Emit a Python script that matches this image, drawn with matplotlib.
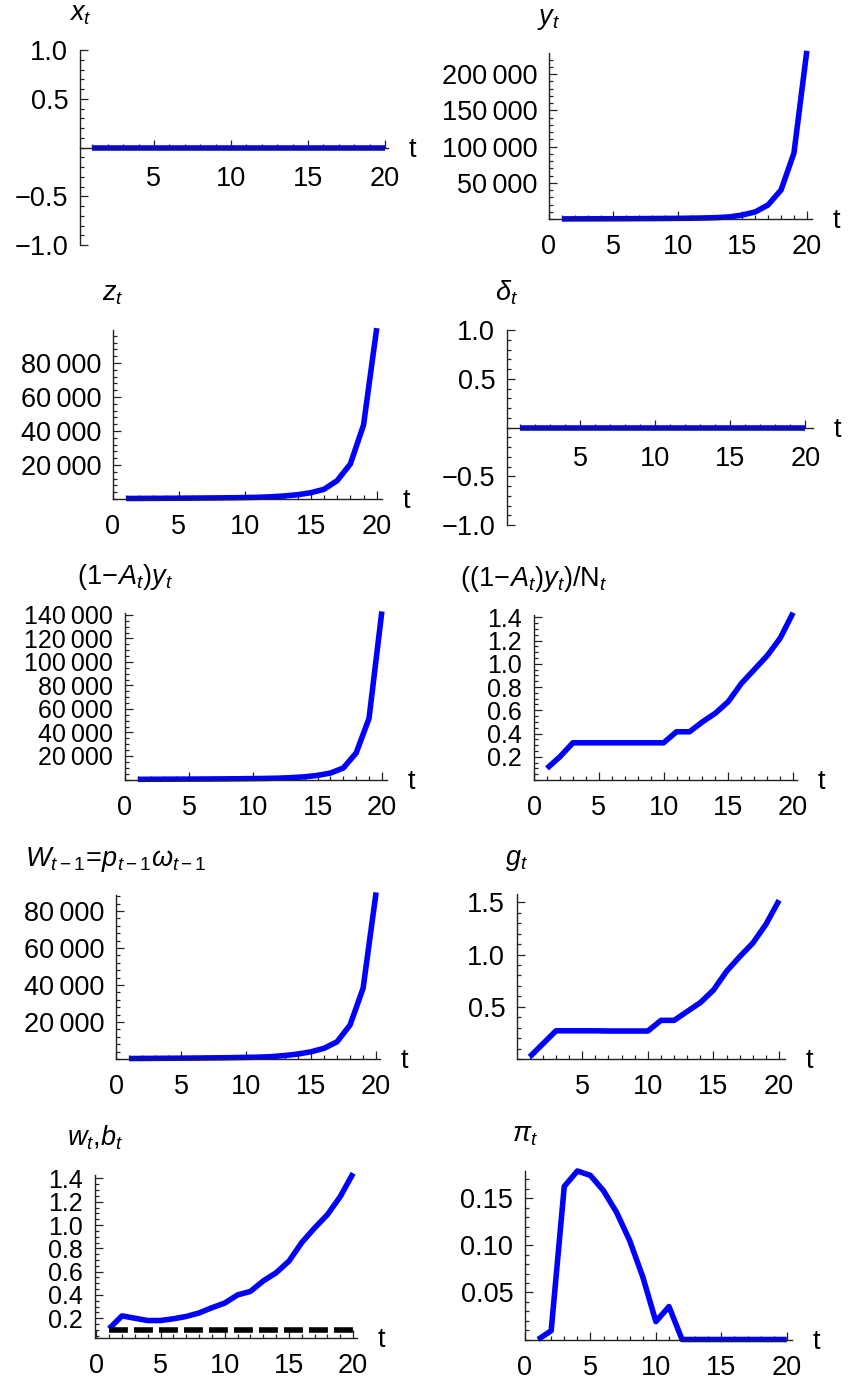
import matplotlib.pyplot as plt
from matplotlib.ticker import MultipleLocator, FixedLocator, FixedFormatter

plt.rcParams['font.family'] = ['Liberation Sans', 'DejaVu Sans']
plt.rcParams['mathtext.fontset'] = 'custom'
plt.rcParams['mathtext.rm'] = 'Liberation Sans'
plt.rcParams['mathtext.it'] = 'Liberation Sans:italic'
plt.rcParams['axes.unicode_minus'] = True

# simulated paths, t = 1..20
t = [1, 2, 3, 4, 5, 6, 7, 8, 9, 10, 11, 12, 13, 14, 15, 16, 17, 18, 19, 20]

x_t = [0, 0, 0, 0, 0, 0, 0, 0, 0, 0, 0, 0, 0, 0, 0, 0, 0, 0, 0, 0]
y_t = [120, 180, 240, 300, 360, 430, 520, 620, 750, 900,
       1100, 1400, 1900, 2900, 5500, 9800, 19500, 40000, 91000, 232000]
z_t = [300, 340, 380, 420, 470, 520, 580, 650, 740, 850,
       1000, 1300, 1800, 2500, 3700, 5700, 10800, 20600, 43500, 100500]
delta_t = [0, 0, 0, 0, 0, 0, 0, 0, 0, 0, 0, 0, 0, 0, 0, 0, 0, 0, 0, 0]
net_y = [150, 200, 250, 300, 350, 400, 470, 550, 650, 770,
         920, 1150, 1600, 2300, 3500, 5500, 9800, 22600, 52000, 143000]
net_y_per_N = [0.10, 0.20, 0.32, 0.32, 0.32, 0.32, 0.32, 0.32, 0.32, 0.32,
               0.415, 0.415, 0.50, 0.575, 0.675, 0.83, 0.95, 1.07, 1.22, 1.44]
wage_bill = [250, 300, 350, 400, 450, 500, 570, 650, 750, 870,
             1000, 1300, 1900, 2700, 3900, 5800, 9300, 18400, 38200, 90000]
g_t = [0.02, 0.145, 0.27, 0.27, 0.27, 0.27, 0.268, 0.268, 0.268, 0.268,
       0.37, 0.37, 0.455, 0.54, 0.66, 0.84, 0.98, 1.11, 1.29, 1.52]
w_t = [0.11, 0.22, 0.20, 0.18, 0.18, 0.195, 0.215, 0.245, 0.29, 0.33,
       0.40, 0.43, 0.52, 0.59, 0.69, 0.85, 0.975, 1.09, 1.245, 1.445]
b_t = [0.10, 0.10, 0.10, 0.10, 0.10, 0.10, 0.10, 0.10, 0.10, 0.10,
       0.10, 0.10, 0.10, 0.10, 0.10, 0.10, 0.10, 0.10, 0.10, 0.10]
pi_t = [0.0, 0.0093, 0.1626, 0.179, 0.1743, 0.158, 0.135, 0.105, 0.0665, 0.019,
        0.035, 0.0, 0.0, 0.0, 0.0, 0.0, 0.0, 0.0, 0.0, 0.0]

W, H = 849, 1380
fig = plt.figure(figsize=(W / 100, H / 100), dpi=100)

BLUE = '#0000ff'
LW = 4.0
FS = 19.5
TFS = 19.5


def thousands(v):
    return f"{int(v):,}".replace(",", "\u2009")


def panel(box, xlim, ylim, xticks, yticks, ylabels, yminor, title,
          zero_axis=False, yfs=FS):
    L, T, R, B = box
    ax = fig.add_axes([L / W, 1 - B / H, (R - L) / W, (B - T) / H])
    ax.set_xlim(*xlim)
    ax.set_ylim(*ylim)
    for s in ('top', 'right'):
        ax.spines[s].set_visible(False)
    for s in ('left', 'bottom'):
        ax.spines[s].set_linewidth(1.0)
        ax.spines[s].set_color('#222222')
    if zero_axis:
        ax.spines['bottom'].set_position(('data', 0))
    ax.xaxis.set_major_locator(FixedLocator(xticks))
    ax.xaxis.set_major_formatter(FixedFormatter([str(v) for v in xticks]))
    ax.xaxis.set_minor_locator(MultipleLocator(1))
    ax.yaxis.set_major_locator(FixedLocator(yticks))
    ax.yaxis.set_major_formatter(FixedFormatter(ylabels))
    ax.yaxis.set_minor_locator(MultipleLocator(yminor))
    ax.tick_params(which='both', direction='in', width=0.9, color='#222222')
    ax.tick_params(axis='x', labelsize=FS, pad=13 if zero_axis else 11)
    ax.tick_params(axis='y', labelsize=yfs, pad=8.5)
    ax.tick_params(which='major', length=5.5)
    ax.tick_params(which='minor', length=3.0)
    yaxis_at = 0 if zero_axis else ylim[0]
    ax.annotate('t', xy=(1, yaxis_at), xycoords=('axes fraction', 'data'),
                xytext=(15, -6.5), textcoords='offset points',
                ha='left', va='baseline', fontsize=FS)
    ax.annotate(title, xy=(0, 1), xycoords='axes fraction',
                xytext=(0, 21), textcoords='offset points',
                ha='center', va='baseline', fontsize=TFS)
    return ax


def plot_line(ax, vals, **kw):
    ax.plot(t, vals, color=BLUE, lw=LW, solid_capstyle='butt',
            solid_joinstyle='round', clip_on=False, **kw)


with_zero = [0, 5, 10, 15, 20]
no_zero = [5, 10, 15, 20]
unit_ticks = [-1.0, -0.5, 0.5, 1.0]
unit_labels = ['\u22121.0', '\u22120.5', '0.5', '1.0']

# x_t
ax = panel((80, 50, 388, 245), (0.2, 20.2), (-1, 1), no_zero,
           unit_ticks, unit_labels, 0.1, r'$x_t$', zero_axis=True)
plot_line(ax, x_t)

# y_t
yt = [50000, 100000, 150000, 200000]
ax = panel((549, 53, 812, 219), (0, 20.4), (0, 229000), with_zero,
           yt, [thousands(v) for v in yt], 10000, r'$y_t$')
plot_line(ax, y_t)

# z_t
yt = [20000, 40000, 60000, 80000]
ax = panel((113, 330, 382, 499), (0, 20.4), (0, 99400), with_zero,
           yt, [thousands(v) for v in yt], 4000, r'$z_t$')
plot_line(ax, z_t)

# delta_t
ax = panel((507, 330, 813, 525), (0.13, 20.5), (-1, 1), no_zero,
           unit_ticks, unit_labels, 0.1, r'$\delta_t$', zero_axis=True)
plot_line(ax, delta_t)

# (1-A_t) y_t
yt = [20000, 40000, 60000, 80000, 100000, 120000, 140000]
ax = panel((125, 613, 387, 779.5), (0, 20.4), (0, 141700), with_zero,
           yt, [thousands(v) for v in yt], 5000, r'$(1\!-\!A_t)y_t$',
           yfs=18)
plot_line(ax, net_y)

# ((1-A_t) y_t)/N_t
yt = [0.2, 0.4, 0.6, 0.8, 1.0, 1.2, 1.4]
ax = panel((534, 615, 797, 780), (0, 20.3), (0, 1.42), with_zero,
           yt, [f"{v:.1f}" for v in yt], 0.05,
           r'$((1\!-\!A_t)y_t)/\mathrm{N}_t$', yfs=18)
plot_line(ax, net_y_per_N)

# W_{t-1}
yt = [20000, 40000, 60000, 80000]
ax = panel((116, 895, 380, 1059), (0, 20.3), (0, 88600), with_zero,
           yt, [thousands(v) for v in yt], 4000,
           r'$W_{t-1}\!=\!p_{t-1}\omega_{t-1}$')
plot_line(ax, wage_bill)

# g_t
yt = [0.5, 1.0, 1.5]
ax = panel((517, 894, 785, 1059), (0.03, 20.45), (0, 1.58), no_zero,
           yt, [f"{v:.1f}" for v in yt], 0.1, r'$g_t$')
plot_line(ax, g_t)

# w_t, b_t
yt = [0.2, 0.4, 0.6, 0.8, 1.0, 1.2, 1.4]
ax = panel((95, 1175, 357, 1338), (-0.1, 20.3), (0.03, 1.43), with_zero,
           yt, [f"{v:.1f}" for v in yt], 0.05, r'$w_t{,}b_t$', yfs=18)
plot_line(ax, w_t)
ax.plot(t, b_t, color='black', lw=LW, dashes=(3.4, 1.1),
        dash_capstyle='butt', clip_on=False)

# pi_t
yt = [0.05, 0.10, 0.15]
ax = panel((525, 1171, 792, 1339.5), (0, 20.4), (0, 0.179), with_zero,
           yt, [f"{v:.2f}" for v in yt], 0.01, r'$\pi_t$')
plot_line(ax, pi_t)

fig.savefig('out.png', dpi=100)
